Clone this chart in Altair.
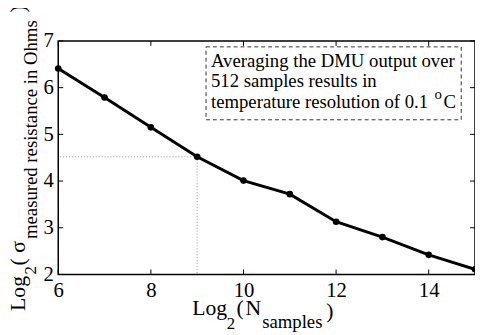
import altair as alt
import pandas as pd

# ---- data ----
log2_n = [6, 7, 8, 9, 10, 11, 12, 13, 14, 15]
log2_sigma = [6.41, 5.79, 5.15, 4.52, 4.01, 3.72, 3.13, 2.80, 2.42, 2.11]
x_ticks = [6, 8, 10, 12, 14]
y_ticks = [2, 3, 4, 5, 6, 7]
highlight_index = 3  # 512 samples -> log2 = 9
note_lines = ["Averaging the DMU output over",
              "512 samples results in",
              "temperature resolution of 0.1"]

W, H = 423, 237
FONT = "'Liberation Serif', 'Times New Roman', serif"

df = pd.DataFrame({"n": log2_n, "s": log2_sigma})
hl = df.iloc[[highlight_index]]
xt = pd.DataFrame({"n": x_ticks})
yt = pd.DataFrame({"s": y_ticks})

xscale = alt.Scale(domain=[6, 15], nice=False, zero=False)
yscale = alt.Scale(domain=[2, 7], nice=False, zero=False)

axis_common = dict(domain=False, ticks=False, grid=False, title=None,
                   labelFont=FONT, labelFontSize=21, labelColor="black",
                   labelPadding=5, labelFlush=False)
xaxis = alt.Axis(values=x_ticks, **axis_common)
yaxis = alt.Axis(values=y_ticks, **axis_common)


def X(f="n:Q"):
    return alt.X(f, scale=xscale, axis=xaxis)


def Y(f="s:Q"):
    return alt.Y(f, scale=yscale, axis=yaxis)


line = alt.Chart(df).mark_line(color="black", strokeWidth=3).encode(x=X(), y=Y())
pts = alt.Chart(df).mark_circle(color="black", size=45, opacity=1).encode(x=X(), y=Y())

guide_h = alt.Chart(hl).mark_rule(color="#999999", strokeWidth=1, strokeDash=[1, 2]).encode(
    x=X(), x2=alt.value(0), y=Y())
guide_v = alt.Chart(hl).mark_rule(color="#999999", strokeWidth=1, strokeDash=[1, 2]).encode(
    x=X(), y=Y(), y2=alt.value(H))

tick_style = dict(color="black", strokeWidth=1)
xt_bot = alt.Chart(xt).mark_rule(**tick_style).encode(
    x=X(), y=alt.value(H), y2=alt.value(H - 5))
xt_top = alt.Chart(xt).mark_rule(**tick_style).encode(
    x=X(), y=alt.value(0), y2=alt.value(5))
yt_left = alt.Chart(yt).mark_rule(**tick_style).encode(
    y=Y(), x=alt.value(0), x2=alt.value(5))
yt_right = alt.Chart(yt).mark_rule(**tick_style).encode(
    y=Y(), x=alt.value(W), x2=alt.value(W - 5))

one = pd.DataFrame({"k": [0]})
box = alt.Chart(one).mark_rect(fill="white", stroke="#333333", strokeWidth=1,
                               strokeDash=[4, 3]).encode(
    x=alt.value(150), x2=alt.value(409), y=alt.value(6), y2=alt.value(80))
note = alt.Chart(one).mark_text(text=note_lines, font=FONT, fontSize=19, lineHeight=21,
                                align="left", baseline="alphabetic", color="black").encode(
    x=alt.value(155), y=alt.value(26))
deg_o = alt.Chart(one).mark_text(text="o", font=FONT, fontSize=15, align="left",
                                 baseline="alphabetic", color="black").encode(
    x=alt.value(382), y=alt.value(59))
deg_c = alt.Chart(one).mark_text(text="C", font=FONT, fontSize=19, align="left",
                                 baseline="alphabetic", color="black").encode(
    x=alt.value(391), y=alt.value(68))


def txt(s, x, y, size, angle=0):
    kw = dict(text=s, font=FONT, fontSize=size, align="left",
              baseline="alphabetic", color="black")
    if angle:
        kw["angle"] = angle
    return alt.Chart(one).mark_text(**kw).encode(x=alt.value(x), y=alt.value(y))


# x title pieces: Log_2( N_samples )
xtitle = [
    txt("Log", 136, 278, 22),
    txt("2", 171, 292, 17),
    txt("(", 181, 278, 22),
    txt("N", 190, 278, 22),
    txt("samples", 207, 291, 19),
    txt(")", 272, 281, 22),
]
# y title pieces (rotated): Log_2( sigma_measured resistance in Ohms )
ytitle = [
    txt("Log", -34, 274, 22, 270),
    txt("2", -23, 237, 17, 270),
    txt("(", -34, 228, 22, 270),
    txt("σ", -34, 215, 22, 270),
    txt("measured resistance in Ohms", -22, 201, 19, 270),
    txt(")", -34, -29, 22, 270),
]

chart = alt.layer(
    guide_h, guide_v, line, pts, xt_bot, xt_top, yt_left, yt_right,
    box, note, deg_o, deg_c, *xtitle, *ytitle
).properties(
    width=W, height=H,
    background="white",
    autosize=alt.AutoSizeParams(type="none"),
    padding={"left": 51, "top": 31, "right": 0, "bottom": 59},
).configure_view(stroke="black", strokeWidth=1.5)

chart.save("out.html", embed_options={"renderer": "svg", "actions": False})
